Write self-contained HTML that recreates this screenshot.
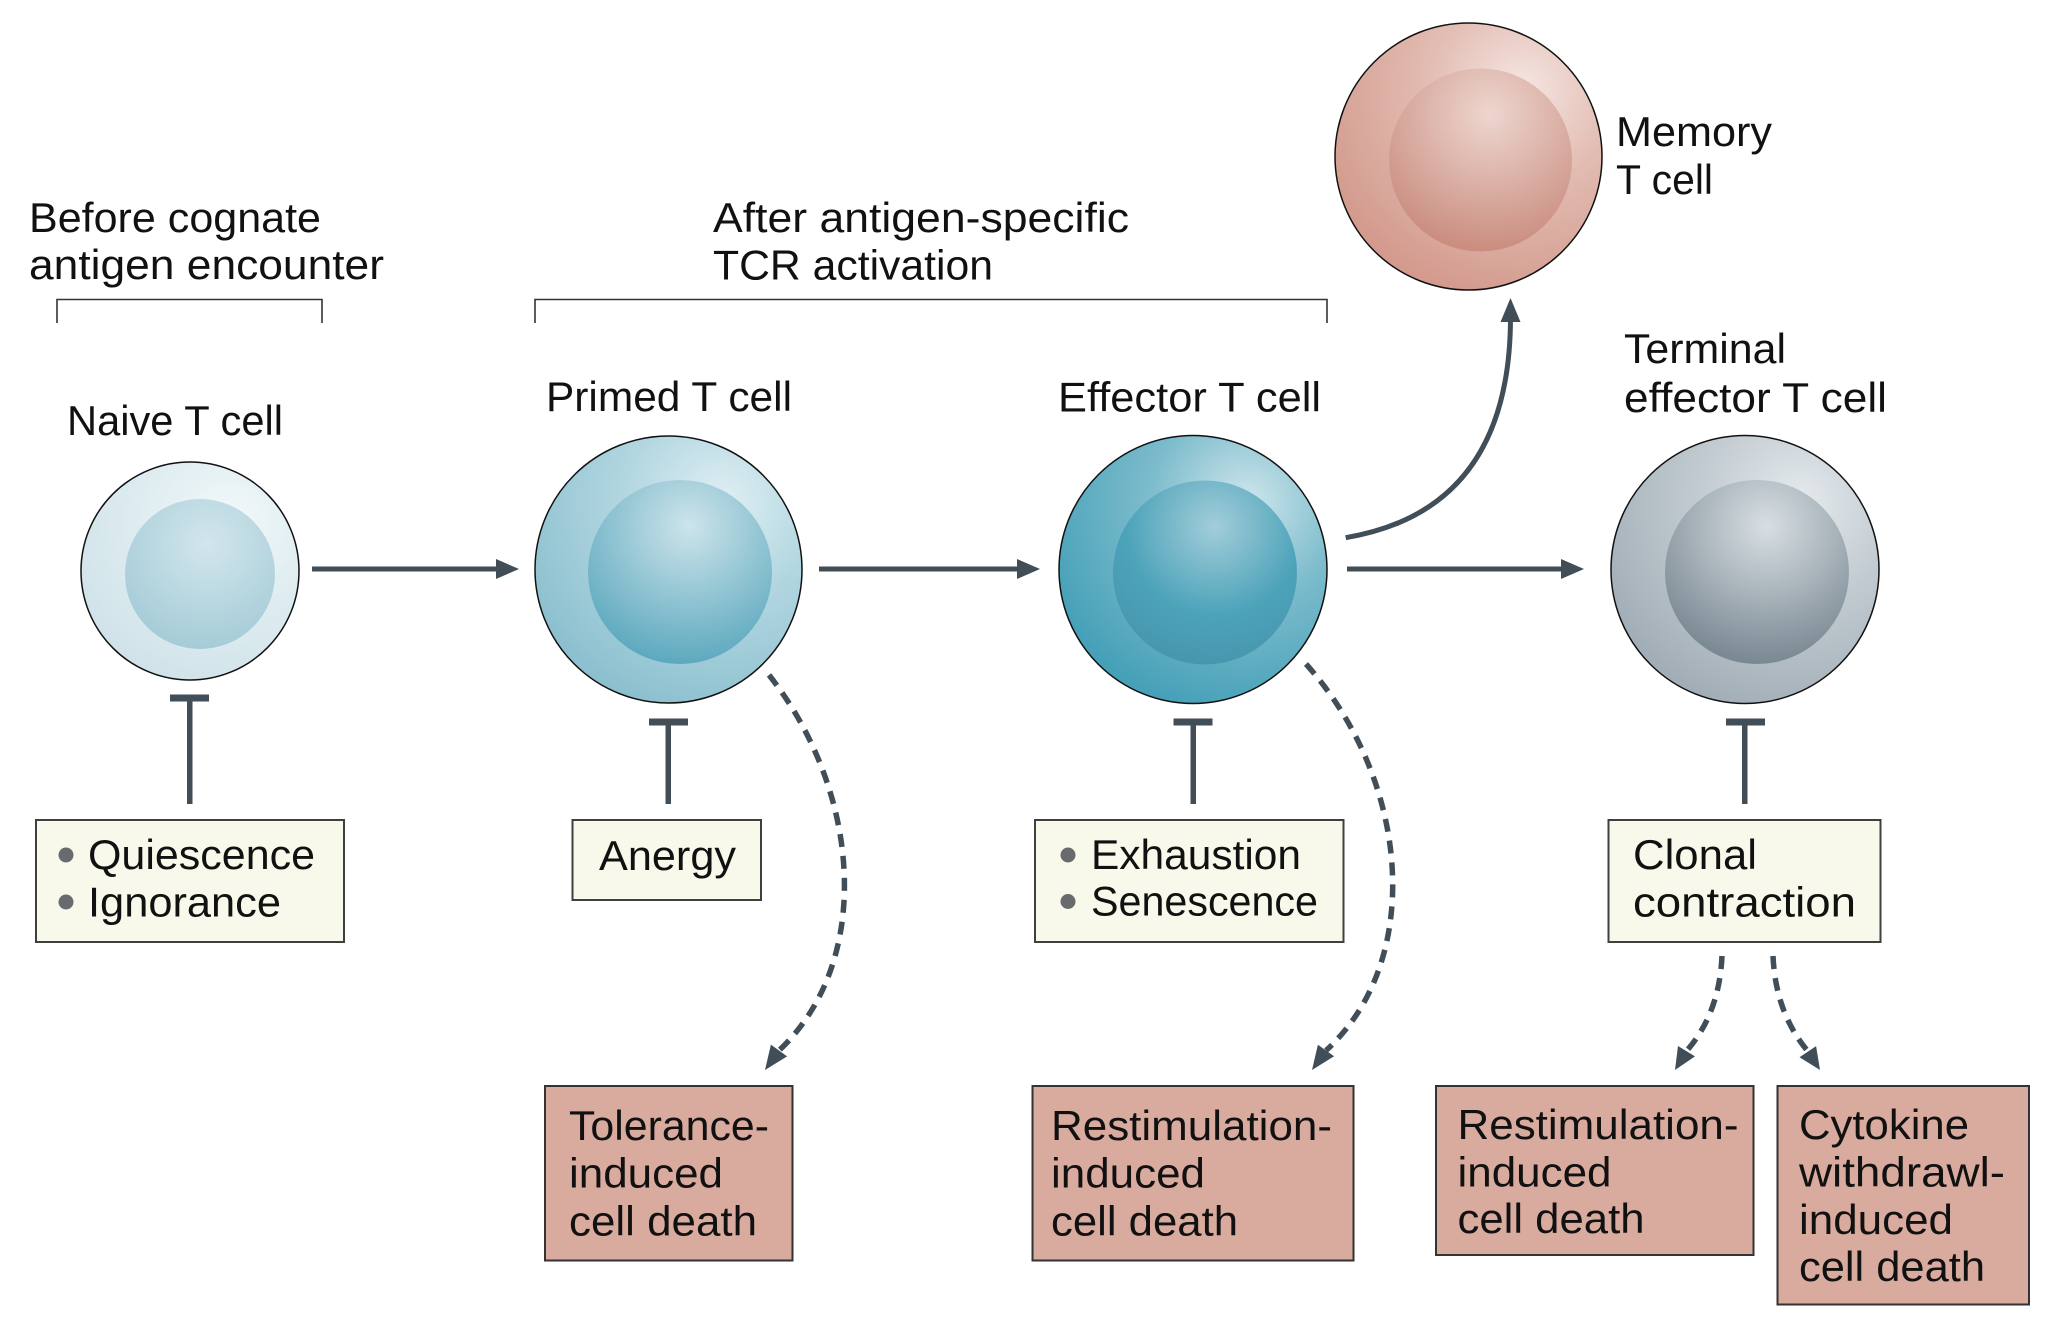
<!DOCTYPE html>
<html>
<head>
<meta charset="utf-8">
<style>
html,body{margin:0;padding:0;background:#fff;}
svg{display:block;}
text{font-family:"Liberation Sans",sans-serif;font-size:42px;fill:#111;}
</style>
</head>
<body>
<svg width="2064" height="1330" viewBox="0 0 2064 1330" xmlns="http://www.w3.org/2000/svg">
<defs>
  <!-- ring gradients -->
  <radialGradient id="rNaive" cx="0.68" cy="0.28" r="0.8">
    <stop offset="0" stop-color="#f2f8f9"/><stop offset="0.5" stop-color="#dfedf1"/><stop offset="1" stop-color="#cfe2e9"/>
  </radialGradient>
  <radialGradient id="nNaive" cx="0.55" cy="0.3" r="0.75">
    <stop offset="0" stop-color="#d2e6ec"/><stop offset="1" stop-color="#a2cad6"/>
  </radialGradient>
  <radialGradient id="rPrimed" cx="0.7" cy="0.25" r="0.8">
    <stop offset="0" stop-color="#e0eff3"/><stop offset="0.45" stop-color="#b3d7e1"/><stop offset="1" stop-color="#8cc0cf"/>
  </radialGradient>
  <radialGradient id="nPrimed" cx="0.55" cy="0.25" r="0.8">
    <stop offset="0" stop-color="#cde4ea"/><stop offset="1" stop-color="#56a5bc"/>
  </radialGradient>
  <radialGradient id="rEff" cx="0.7" cy="0.25" r="0.8">
    <stop offset="0" stop-color="#cfe6ec"/><stop offset="0.45" stop-color="#7dbccc"/><stop offset="1" stop-color="#45a0b8"/>
  </radialGradient>
  <radialGradient id="nEff" cx="0.55" cy="0.25" r="0.8">
    <stop offset="0" stop-color="#a2cdd9"/><stop offset="0.6" stop-color="#4da3ba"/><stop offset="1" stop-color="#4595ac"/>
  </radialGradient>
  <radialGradient id="rMem" cx="0.7" cy="0.25" r="0.8">
    <stop offset="0" stop-color="#f5e6e2"/><stop offset="0.45" stop-color="#e2bcb2"/><stop offset="1" stop-color="#d39a8d"/>
  </radialGradient>
  <radialGradient id="nMem" cx="0.55" cy="0.25" r="0.8">
    <stop offset="0" stop-color="#edd6cf"/><stop offset="1" stop-color="#c8887a"/>
  </radialGradient>
  <radialGradient id="rTerm" cx="0.7" cy="0.25" r="0.8">
    <stop offset="0" stop-color="#e5eaed"/><stop offset="0.45" stop-color="#c3ccd2"/><stop offset="1" stop-color="#a2aeb7"/>
  </radialGradient>
  <radialGradient id="nTerm" cx="0.55" cy="0.25" r="0.8">
    <stop offset="0" stop-color="#d8dfe3"/><stop offset="1" stop-color="#73828d"/>
  </radialGradient>
</defs>

<!-- Brackets -->
<path d="M57 323 V299.5 H322 V323" fill="none" stroke="#333" stroke-width="1.6"/>
<path d="M535 323 V299.5 H1327 V323" fill="none" stroke="#333" stroke-width="1.6"/>

<!-- Header labels -->
<text x="29" y="232" textLength="292" lengthAdjust="spacingAndGlyphs">Before cognate</text>
<text x="29" y="279" textLength="355" lengthAdjust="spacingAndGlyphs">antigen encounter</text>
<text x="713" y="232" textLength="416" lengthAdjust="spacingAndGlyphs">After antigen-specific</text>
<text x="713" y="279.5" textLength="280" lengthAdjust="spacingAndGlyphs">TCR activation</text>

<!-- Cell labels -->
<text x="67" y="435" textLength="216" lengthAdjust="spacingAndGlyphs">Naive T cell</text>
<text x="546" y="411" textLength="246" lengthAdjust="spacingAndGlyphs">Primed T cell</text>
<text x="1058" y="411.5" textLength="263" lengthAdjust="spacingAndGlyphs">Effector T cell</text>
<text x="1624" y="363" textLength="162" lengthAdjust="spacingAndGlyphs">Terminal</text>
<text x="1624" y="412" textLength="263" lengthAdjust="spacingAndGlyphs">effector T cell</text>
<text x="1616" y="146" textLength="156" lengthAdjust="spacingAndGlyphs">Memory</text>
<text x="1616" y="194" textLength="97" lengthAdjust="spacingAndGlyphs">T cell</text>

<!-- Cells -->
<circle cx="190" cy="571" r="109" fill="url(#rNaive)" stroke="#111" stroke-width="1.5"/>
<circle cx="200" cy="574" r="75" fill="url(#nNaive)"/>

<circle cx="668.5" cy="569.5" r="133.5" fill="url(#rPrimed)" stroke="#111" stroke-width="1.5"/>
<circle cx="680" cy="572" r="92" fill="url(#nPrimed)"/>

<circle cx="1193" cy="569.5" r="134" fill="url(#rEff)" stroke="#111" stroke-width="1.5"/>
<circle cx="1205" cy="572.5" r="92" fill="url(#nEff)"/>

<circle cx="1468.5" cy="156.5" r="133.5" fill="url(#rMem)" stroke="#111" stroke-width="1.5"/>
<circle cx="1480.5" cy="160" r="91.5" fill="url(#nMem)"/>

<circle cx="1745" cy="569.5" r="134" fill="url(#rTerm)" stroke="#111" stroke-width="1.5"/>
<circle cx="1757" cy="572" r="92" fill="url(#nTerm)"/>

<!-- Straight arrows -->
<g stroke="#414e58" stroke-width="5" fill="none">
  <line x1="312" y1="569" x2="498" y2="569"/>
  <line x1="819" y1="569" x2="1019" y2="569"/>
  <line x1="1347" y1="569" x2="1563" y2="569"/>
  <path d="M1345.7 537.7 Q1510 510 1510.5 318"/>
</g>
<g fill="#414e58">
  <polygon points="519,569 496,559 496,579"/>
  <polygon points="1040,569 1017,559 1017,579"/>
  <polygon points="1584,569 1561,559 1561,579"/>
  <polygon points="1510.5,298 1500.5,322 1520.5,322"/>
</g>

<!-- Inhibition T bars -->
<g fill="#414e58">
  <rect x="170" y="694.5" width="39" height="7"/>
  <rect x="187" y="698" width="5.5" height="106"/>
  <rect x="649" y="718.5" width="39" height="7"/>
  <rect x="665.5" y="722" width="5.5" height="82"/>
  <rect x="1173.5" y="718.5" width="39" height="7"/>
  <rect x="1190.5" y="722" width="5.5" height="82"/>
  <rect x="1726" y="718.5" width="39" height="7"/>
  <rect x="1742" y="722" width="5.5" height="82"/>
</g>

<!-- Dashed curves -->
<g stroke="#414e58" stroke-width="5.5" fill="none" stroke-dasharray="13 9">
  <path d="M769 675 C860 790, 875 960, 779 1050.5"/>
  <path d="M1306 664 C1410 780, 1425 960, 1326 1050.5"/>
  <path d="M1722 956 C1720 1000, 1705 1030, 1686.5 1051"/>
  <path d="M1773 956 C1775 1000, 1790 1030, 1808 1051.5"/>
</g>
<g fill="#414e58">
  <polygon points="765,1070 787.1,1056.4 770.9,1044.6"/>
  <polygon points="1312,1070 1334.1,1056.3 1317.9,1044.7"/>
  <polygon points="1675,1070 1695,1056.4 1678,1046"/>
  <polygon points="1820,1070 1816.1,1046.1 1799.5,1057.2"/>
</g>

<!-- Yellow boxes -->
<g fill="#f8f9ea" stroke="#3f3f3f" stroke-width="2">
  <rect x="36" y="820" width="308" height="122"/>
  <rect x="572.5" y="820" width="188.5" height="80"/>
  <rect x="1035" y="820" width="308.5" height="122"/>
  <rect x="1608.5" y="820" width="272" height="122"/>
</g>
<g fill="#686b6e">
  <circle cx="66" cy="855" r="7.5"/>
  <circle cx="66" cy="902" r="7.5"/>
  <circle cx="1068" cy="855" r="7.5"/>
  <circle cx="1068" cy="901.5" r="7.5"/>
</g>
<text x="88" y="869" textLength="227" lengthAdjust="spacingAndGlyphs">Quiescence</text>
<text x="88" y="916.5" textLength="193" lengthAdjust="spacingAndGlyphs">Ignorance</text>
<text x="599" y="870" textLength="137" lengthAdjust="spacingAndGlyphs">Anergy</text>
<text x="1091" y="869" textLength="210" lengthAdjust="spacingAndGlyphs">Exhaustion</text>
<text x="1091" y="915.5" textLength="227" lengthAdjust="spacingAndGlyphs">Senescence</text>
<text x="1633" y="869" textLength="124" lengthAdjust="spacingAndGlyphs">Clonal</text>
<text x="1633" y="916.5" textLength="223" lengthAdjust="spacingAndGlyphs">contraction</text>

<!-- Pink boxes -->
<g fill="#d9aa9e" stroke="#333" stroke-width="2">
  <rect x="545" y="1086" width="247.5" height="174.5"/>
  <rect x="1032.5" y="1086" width="321" height="174.5"/>
  <rect x="1436" y="1086" width="317.5" height="169"/>
  <rect x="1777.5" y="1086" width="251.5" height="218.5"/>
</g>
<text x="569" y="1140" textLength="200" lengthAdjust="spacingAndGlyphs">Tolerance-</text>
<text x="569" y="1187.5" textLength="154" lengthAdjust="spacingAndGlyphs">induced</text>
<text x="569" y="1235.5" textLength="188" lengthAdjust="spacingAndGlyphs">cell death</text>

<text x="1051" y="1140" textLength="281" lengthAdjust="spacingAndGlyphs">Restimulation-</text>
<text x="1051" y="1187.5" textLength="154" lengthAdjust="spacingAndGlyphs">induced</text>
<text x="1051" y="1235.5" textLength="187" lengthAdjust="spacingAndGlyphs">cell death</text>

<text x="1457.5" y="1139" textLength="281" lengthAdjust="spacingAndGlyphs">Restimulation-</text>
<text x="1457.5" y="1186.5" textLength="154" lengthAdjust="spacingAndGlyphs">induced</text>
<text x="1457.5" y="1233" textLength="187" lengthAdjust="spacingAndGlyphs">cell death</text>

<text x="1799" y="1139" textLength="170" lengthAdjust="spacingAndGlyphs">Cytokine</text>
<text x="1799" y="1186.5" textLength="206" lengthAdjust="spacingAndGlyphs">withdrawl-</text>
<text x="1799" y="1234" textLength="154" lengthAdjust="spacingAndGlyphs">induced</text>
<text x="1799" y="1281" textLength="186" lengthAdjust="spacingAndGlyphs">cell death</text>
</svg>
</body>
</html>
